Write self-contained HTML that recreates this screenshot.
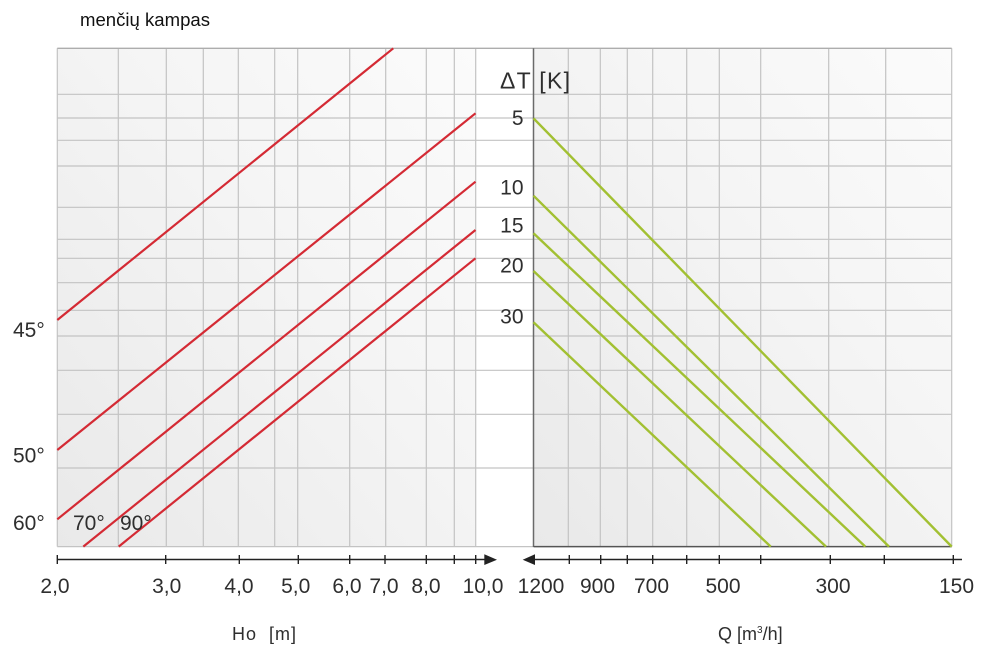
<!DOCTYPE html>
<html><head><meta charset="utf-8"><style>
html,body{margin:0;padding:0;background:#fff;}
svg{display:block;}
text{font-family:"Liberation Sans",sans-serif;fill:#2e2e2e;}
</style></head><body>
<svg width="982" height="648" viewBox="0 0 982 648" xmlns="http://www.w3.org/2000/svg">
<defs>
<linearGradient id="g1" x1="0" y1="1" x2="1" y2="0">
<stop offset="0" stop-color="#e9e9e9"/><stop offset="0.6" stop-color="#f5f5f5"/><stop offset="1" stop-color="#fbfbfb"/>
</linearGradient>
</defs>
<text x="80" y="26" font-size="18.5" textLength="130" lengthAdjust="spacingAndGlyphs" style="font-family:'Liberation Sans','DejaVu Sans',sans-serif;fill:#111">menčių kampas</text>
<rect x="57.3" y="48.3" width="418.4" height="498.4" fill="url(#g1)"/>
<rect x="533.3" y="48.3" width="418.4" height="498.4" fill="url(#g1)"/>
<g stroke="#c3c3c3" stroke-width="1.2" fill="none">
<line x1="57.3" x2="951.7" y1="94.3" y2="94.3"/>
<line x1="57.3" x2="951.7" y1="118" y2="118"/>
<line x1="57.3" x2="951.7" y1="140.3" y2="140.3"/>
<line x1="57.3" x2="951.7" y1="166" y2="166"/>
<line x1="57.3" x2="951.7" y1="207.3" y2="207.3"/>
<line x1="57.3" x2="951.7" y1="239.3" y2="239.3"/>
<line x1="57.3" x2="951.7" y1="258.3" y2="258.3"/>
<line x1="57.3" x2="951.7" y1="282.7" y2="282.7"/>
<line x1="57.3" x2="951.7" y1="310.3" y2="310.3"/>
<line x1="57.3" x2="951.7" y1="336" y2="336"/>
<line x1="57.3" x2="951.7" y1="370.3" y2="370.3"/>
<line x1="57.3" x2="951.7" y1="414.3" y2="414.3"/>
<line x1="57.3" x2="951.7" y1="468" y2="468"/>
<line x1="57.3" x2="533" y1="546.6" y2="546.6"/>
<line x1="57.3" x2="57.3" y1="48.3" y2="546.6"/>
<line x1="118.3" x2="118.3" y1="48.3" y2="546.6"/>
<line x1="166.3" x2="166.3" y1="48.3" y2="546.6"/>
<line x1="203.3" x2="203.3" y1="48.3" y2="546.6"/>
<line x1="238.3" x2="238.3" y1="48.3" y2="546.6"/>
<line x1="274.7" x2="274.7" y1="48.3" y2="546.6"/>
<line x1="297.7" x2="297.7" y1="48.3" y2="546.6"/>
<line x1="349.7" x2="349.7" y1="48.3" y2="546.6"/>
<line x1="385.7" x2="385.7" y1="48.3" y2="546.6"/>
<line x1="426.3" x2="426.3" y1="48.3" y2="546.6"/>
<line x1="454.3" x2="454.3" y1="48.3" y2="546.6"/>
<line x1="475.7" x2="475.7" y1="48.3" y2="546.6"/>
<line x1="568.3" x2="568.3" y1="48.3" y2="546.6"/>
<line x1="600.3" x2="600.3" y1="48.3" y2="546.6"/>
<line x1="627.3" x2="627.3" y1="48.3" y2="546.6"/>
<line x1="652.7" x2="652.7" y1="48.3" y2="546.6"/>
<line x1="686.7" x2="686.7" y1="48.3" y2="546.6"/>
<line x1="719.3" x2="719.3" y1="48.3" y2="546.6"/>
<line x1="760.7" x2="760.7" y1="48.3" y2="546.6"/>
<line x1="828.7" x2="828.7" y1="48.3" y2="546.6"/>
<line x1="885.7" x2="885.7" y1="48.3" y2="546.6"/>
<line x1="951.7" x2="951.7" y1="48.3" y2="546.6"/>
</g>
<line x1="57.3" x2="951.7" y1="48.3" y2="48.3" stroke="#adadad" stroke-width="1.4"/>
<line x1="533.5" x2="533.5" y1="48.3" y2="547" stroke="#6a6a6a" stroke-width="1.5"/>
<line x1="533.5" x2="951.7" y1="546.6" y2="546.6" stroke="#555" stroke-width="1.5"/>
<g stroke="#d42a34" stroke-width="2.2" fill="none">
<line x1="57.3" y1="320" x2="393.3" y2="48.3"/>
<line x1="57.3" y1="450" x2="475.5" y2="113.3"/>
<line x1="57.3" y1="519.3" x2="475.5" y2="181.7"/>
<line x1="83.3" y1="546.6" x2="475.5" y2="230"/>
<line x1="118.7" y1="546.6" x2="475.5" y2="258.3"/>
</g>
<g stroke="#a2c032" stroke-width="2.4" fill="none">
<line x1="533.5" y1="118.3" x2="951.7" y2="546.6"/>
<line x1="533.5" y1="195.7" x2="889" y2="546.6"/>
<line x1="533.5" y1="233.3" x2="865.3" y2="546.6"/>
<line x1="533.5" y1="271" x2="826" y2="546.6"/>
<line x1="533.5" y1="322.3" x2="770.7" y2="546.6"/>
</g>
<g stroke="#222" stroke-width="1.4">
<line x1="57.3" x2="486" y1="559.5" y2="559.5"/>
<line x1="534" x2="962" y1="559.5" y2="559.5"/>
<line x1="57.3" x2="57.3" y1="555" y2="564"/>
<line x1="165.7" x2="165.7" y1="555" y2="564"/>
<line x1="239.3" x2="239.3" y1="555" y2="564"/>
<line x1="298.3" x2="298.3" y1="555" y2="564"/>
<line x1="349.7" x2="349.7" y1="555" y2="564"/>
<line x1="385" x2="385" y1="555" y2="564"/>
<line x1="426.3" x2="426.3" y1="555" y2="564"/>
<line x1="454.3" x2="454.3" y1="555" y2="564"/>
<line x1="475.7" x2="475.7" y1="555" y2="564"/>
<line x1="569.3" x2="569.3" y1="555" y2="564"/>
<line x1="600.7" x2="600.7" y1="555" y2="564"/>
<line x1="627.3" x2="627.3" y1="555" y2="564"/>
<line x1="652.7" x2="652.7" y1="555" y2="564"/>
<line x1="686.7" x2="686.7" y1="555" y2="564"/>
<line x1="719.3" x2="719.3" y1="555" y2="564"/>
<line x1="760.7" x2="760.7" y1="555" y2="564"/>
<line x1="830.3" x2="830.3" y1="555" y2="564"/>
<line x1="884.3" x2="884.3" y1="555" y2="564"/>
<line x1="953.3" x2="953.3" y1="555" y2="564"/>
</g>
<polygon points="484.3,554.3 497,559.7 484.3,565" fill="#222"/>
<polygon points="535,554.3 522.7,559.7 535,565" fill="#222"/>
<g font-size="21" text-anchor="middle">
<text x="55" y="593">2,0</text>
<text x="166.7" y="593">3,0</text>
<text x="239" y="593">4,0</text>
<text x="295.7" y="593">5,0</text>
<text x="347" y="593">6,0</text>
<text x="384" y="593">7,0</text>
<text x="426" y="593">8,0</text>
<text x="483" y="593">10,0</text>
<text x="541" y="593">1200</text>
<text x="597.5" y="593">900</text>
<text x="651.5" y="593">700</text>
<text x="723" y="593">500</text>
<text x="833" y="593">300</text>
<text x="956.5" y="593">150</text>
</g>
<text x="232" y="640" font-size="18" textLength="64" style="white-space:pre">Ho  [m]</text>
<text x="718" y="640" font-size="18">Q [m<tspan font-size="10" dy="-7">3</tspan><tspan dy="7">/h]</tspan></text>
<g font-size="21">
<text x="13" y="337">45°</text>
<text x="13" y="462.5">50°</text>
<text x="13" y="530">60°</text>
<text x="73" y="530">70°</text>
<text x="120" y="530">90°</text>
</g>
<text x="500" y="88.5" font-size="23" textLength="70">ΔT [K]</text>
<g font-size="21" text-anchor="end">
<text x="523.5" y="125">5</text>
<text x="523.5" y="194.3">10</text>
<text x="523.5" y="232.7">15</text>
<text x="523.5" y="272.7">20</text>
<text x="523.5" y="323.3">30</text>
</g>
</svg>
</body></html>
